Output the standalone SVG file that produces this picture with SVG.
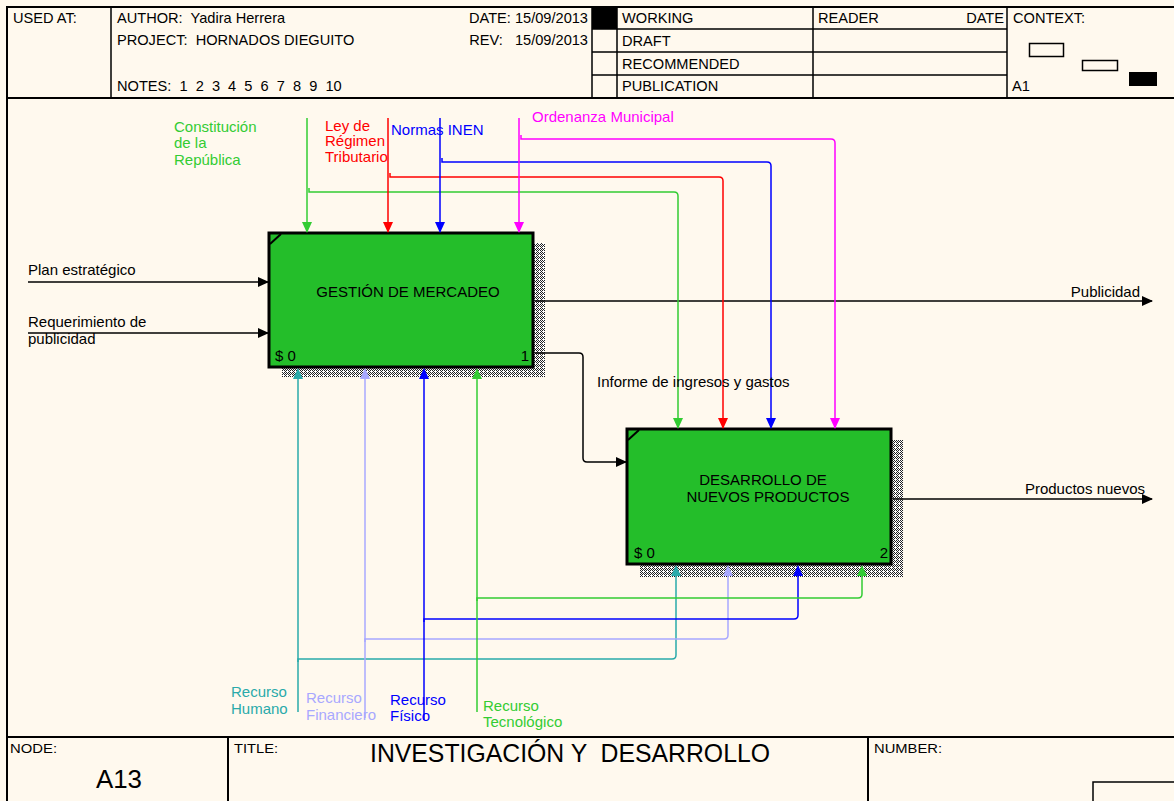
<svg xmlns="http://www.w3.org/2000/svg" width="1174" height="801" viewBox="0 0 1174 801">
<style>
text{font-family:"Liberation Sans",Arial,sans-serif;font-size:15px;fill:#000;white-space:pre}
text.hd{font-size:14.6px}
text.sm{font-size:13px}
text.big{font-size:25px}
text.title{font-size:26px}
.frame{stroke:#000;stroke-width:2;fill:none}
.thin{stroke:#000;stroke-width:1.5;fill:none}
.box{fill:#24BE2A;stroke:#000;stroke-width:3}
.shadow{fill:url(#hatch)}
.c{fill:none;stroke-width:1.5}
.k{stroke:#000}.g{stroke:#33CC33}.r{stroke:#FF0000}.b{stroke:#0000FF}.m{stroke:#FF00FF}.t{stroke:#2AAAAA}.l{stroke:#A8A8FF}
.tg{fill:#33CC33}.tr{fill:#FF0000}.tb{fill:#0000FF}.tm{fill:#FF00FF}.tt{fill:#2AAAAA}.tl{fill:#A8A8FF}
</style>
<defs>
<pattern id="hatch" width="4" height="4" patternUnits="userSpaceOnUse">
<rect width="4" height="4" fill="#fff"/>
<path d="M0,0h1v1h-1z M2,0h1v1h-1z M1,1h1v1h-1z M3,1h1v1h-1z M0,2h1v1h-1z M2,2h1v1h-1z M1,3h1v1h-1z" fill="#222" shape-rendering="crispEdges"/>
</pattern>
<marker id="ak" markerUnits="userSpaceOnUse" markerWidth="11" markerHeight="10" refX="10" refY="5" orient="auto"><path d="M0,0 L11,5 L0,10 z" fill="#000"/></marker>
<marker id="ag" markerUnits="userSpaceOnUse" markerWidth="11" markerHeight="10" refX="10" refY="5" orient="auto"><path d="M0,0 L11,5 L0,10 z" fill="#33CC33"/></marker>
<marker id="ar" markerUnits="userSpaceOnUse" markerWidth="11" markerHeight="10" refX="10" refY="5" orient="auto"><path d="M0,0 L11,5 L0,10 z" fill="#FF0000"/></marker>
<marker id="ab" markerUnits="userSpaceOnUse" markerWidth="11" markerHeight="10" refX="10" refY="5" orient="auto"><path d="M0,0 L11,5 L0,10 z" fill="#0000FF"/></marker>
<marker id="am" markerUnits="userSpaceOnUse" markerWidth="11" markerHeight="10" refX="10" refY="5" orient="auto"><path d="M0,0 L11,5 L0,10 z" fill="#FF00FF"/></marker>
<path id="up" d="M0,0 L-5,11 L5,11 z"/>
</defs>
<rect width="1174" height="801" fill="#FFF9EE"/>

<g id="header">
<path class="frame" d="M7,801 V7 H1174 M7,98 H1174"/>
<path class="thin" d="M111,7 V98 M592,7 V98 M617,7 V98 M813,7 V98 M1007,7 V98 M592,29 H1007 M592,52 H1007 M592,75 H1007"/>
<rect x="592" y="7" width="25" height="22" fill="#000"/>
<text class="hd" x="13" y="23">USED AT:</text>
<text class="hd" x="117" y="23">AUTHOR:  Yadira Herrera</text>
<text class="hd" x="117" y="45">PROJECT:  HORNADOS DIEGUITO</text>
<text class="hd" x="117" y="91">NOTES:  1  2  3  4  5  6  7  8  9  10</text>
<text class="hd" x="588" y="23" text-anchor="end">DATE: 15/09/2013</text>
<text class="hd" x="588" y="45" text-anchor="end">REV:   15/09/2013</text>
<text class="hd" x="622" y="23">WORKING</text>
<text class="hd" x="622" y="46">DRAFT</text>
<text class="hd" x="622" y="69">RECOMMENDED</text>
<text class="hd" x="622" y="91">PUBLICATION</text>
<text class="hd" x="818" y="23">READER</text>
<text class="hd" x="1004" y="23" text-anchor="end">DATE</text>
<text class="hd" x="1013" y="23">CONTEXT:</text>
<text class="hd" x="1012" y="91">A1</text>
<rect x="1029.5" y="43.5" width="34" height="13" fill="none" stroke="#000" stroke-width="1.5"/>
<rect x="1082.5" y="60.5" width="35" height="10" fill="none" stroke="#000" stroke-width="1.5"/>
<rect x="1129" y="72" width="28" height="14" fill="#000"/>
</g>

<g id="footer">
<path class="frame" d="M7,737 H1174 M228,737 V801 M868,737 V801"/>
<path class="thin" d="M1093,801 V782 H1174"/>
<text class="sm" x="10" y="753" textLength="47" lengthAdjust="spacingAndGlyphs">NODE:</text>
<text class="big" x="96" y="788" textLength="46" lengthAdjust="spacingAndGlyphs">A13</text>
<text class="sm" x="234" y="753" textLength="44" lengthAdjust="spacingAndGlyphs">TITLE:</text>
<text class="title" x="370" y="762" textLength="400" lengthAdjust="spacingAndGlyphs">INVESTIGACIÓN Y  DESARROLLO</text>
<text class="sm" x="874" y="753" textLength="68" lengthAdjust="spacingAndGlyphs">NUMBER:</text>
</g>

<g id="node-A131">
<rect class="shadow" x="282" y="243" width="263" height="134"/>
<rect class="box" x="269" y="233" width="264" height="134"/>
<path d="M270,244 L281,234" stroke="#000" stroke-width="2"/>
<text x="408" y="297" text-anchor="middle">GESTIÓN DE MERCADEO</text>
<text x="275" y="361">$ 0</text>
<text x="529" y="361" text-anchor="end">1</text>
</g>

<g id="node-A132">
<rect class="shadow" x="640" y="440" width="263" height="137"/>
<rect class="box" x="627" y="429" width="264" height="135"/>
<path d="M628,440 L639,430" stroke="#000" stroke-width="2"/>
<text x="763" y="485" text-anchor="middle">DESARROLLO DE</text>
<text x="768" y="502" text-anchor="middle">NUEVOS PRODUCTOS</text>
<text x="634" y="558">$ 0</text>
<text x="888" y="558" text-anchor="end">2</text>
</g>

<g id="connectors">
<path class="c k" d="M28,282 H268" marker-end="url(#ak)"/>
<path class="c k" d="M28,333 H268" marker-end="url(#ak)"/>
<path class="c k" d="M535,301 H1152" marker-end="url(#ak)"/>
<path class="c k" d="M535,353 H579 Q583,353 583,357 V458 Q583,462 587,462 H626" marker-end="url(#ak)"/>
<path class="c k" d="M893,499 H1152" marker-end="url(#ak)"/>
<path class="c g" d="M307,118 V232" marker-end="url(#ag)"/>
<path class="c g" d="M309,188 V192 H674 Q678,192 678,196 V428" marker-end="url(#ag)"/>
<path class="c r" d="M388,118 V232" marker-end="url(#ar)"/>
<path class="c r" d="M390,173 V177 H719 Q723,177 723,181 V428" marker-end="url(#ar)"/>
<path class="c b" d="M440,118 V232" marker-end="url(#ab)"/>
<path class="c b" d="M442,158 V162 H767 Q771,162 771,166 V428" marker-end="url(#ab)"/>
<path class="c m" d="M519,118 V232" marker-end="url(#am)"/>
<path class="c m" d="M521,135 V139 H831 Q835,139 835,143 V428" marker-end="url(#am)"/>
<path class="c t" d="M298,712 V376"/>
<path class="c t" d="M298,662 V659 H672 Q676,659 676,655 V573"/>
<path class="c l" d="M365,718 V376"/>
<path class="c l" d="M365,642 V639 H724 Q728,639 728,635 V573"/>
<path class="c b" d="M424,720 V376"/>
<path class="c b" d="M424,622 V619 H794 Q798,619 798,615 V573"/>
<path class="c g" d="M477,712 V376"/>
<path class="c g" d="M477,601 V598 H858 Q862,598 862,594 V573"/>
<g id="arrowheads-up">
<use href="#up" x="298" y="368" fill="#2AAAAA"/>
<use href="#up" x="365" y="368" fill="#A8A8FF"/>
<use href="#up" x="424" y="368" fill="#0000FF"/>
<use href="#up" x="477" y="368" fill="#33CC33"/>
<use href="#up" x="676" y="565" fill="#2AAAAA"/>
<use href="#up" x="728" y="565" fill="#A8A8FF"/>
<use href="#up" x="798" y="565" fill="#0000FF"/>
<use href="#up" x="862" y="565" fill="#33CC33"/>
</g>
</g>

<g id="labels">
<text x="28" y="275">Plan estratégico</text>
<text x="28" y="327">Requerimiento de</text>
<text x="28" y="344">publicidad</text>
<text x="1140" y="297" text-anchor="end">Publicidad</text>
<text x="1145" y="494" text-anchor="end">Productos nuevos</text>
<text x="597" y="387">Informe de ingresos y gastos</text>
<text class="tg" x="174" y="132">Constitución</text>
<text class="tg" x="174" y="148">de la</text>
<text class="tg" x="174" y="165">República</text>
<text class="tr" x="325" y="131">Ley de</text>
<text class="tr" x="325" y="146">Régimen</text>
<text class="tr" x="325" y="162">Tributario</text>
<text class="tb" x="391" y="135">Normas INEN</text>
<text class="tm" x="532" y="122">Ordenanza Municipal</text>
<text class="tt" x="231" y="697">Recurso</text>
<text class="tt" x="231" y="714">Humano</text>
<text class="tl" x="306" y="703">Recurso</text>
<text class="tl" x="306" y="720">Financiero</text>
<text class="tb" x="390" y="705">Recurso</text>
<text class="tb" x="390" y="721">Físico</text>
<text class="tg" x="483" y="711">Recurso</text>
<text class="tg" x="483" y="727">Tecnológico</text>
</g>
</svg>
